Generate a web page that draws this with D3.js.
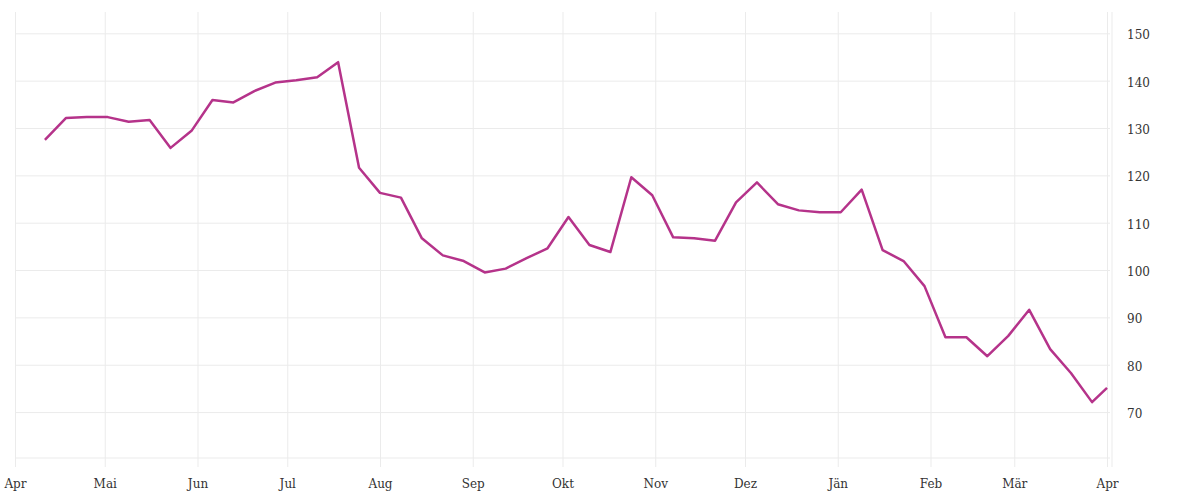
<!DOCTYPE html>
<html>
<head>
<meta charset="utf-8">
<script src="https://cdn.jsdelivr.net/npm/d3@7"></script>
<style>
    body { margin: 0; background: #fff; }
    .tick text { font-family: "DejaVu Serif", serif; font-size: 12px; fill: #333; }
</style>
</head>
<body>
<div id="chart"></div>
<script>
// Weekly dates (Mondays) and the last value at the start of April
const dates = [
    "2022-04-11", "2022-04-18", "2022-04-25", "2022-05-02", "2022-05-09", "2022-05-16", "2022-05-23", "2022-05-30",
    "2022-06-06", "2022-06-13", "2022-06-20", "2022-06-27", "2022-07-04", "2022-07-11", "2022-07-18", "2022-07-25",
    "2022-08-01", "2022-08-08", "2022-08-15", "2022-08-22", "2022-08-29", "2022-09-05", "2022-09-12", "2022-09-19",
    "2022-09-26", "2022-10-03", "2022-10-10", "2022-10-17", "2022-10-24", "2022-10-31", "2022-11-07", "2022-11-14",
    "2022-11-21", "2022-11-28", "2022-12-05", "2022-12-12", "2022-12-19", "2022-12-26", "2023-01-02", "2023-01-09",
    "2023-01-16", "2023-01-23", "2023-01-30", "2023-02-06", "2023-02-13", "2023-02-20", "2023-02-27", "2023-03-06",
    "2023-03-13", "2023-03-20", "2023-03-27", "2023-04-01"
];

// Values
const values = [
    127.5, 132.1, 132.3, 132.3, 131.3, 131.7, 125.8, 129.4,
    135.9, 135.4, 137.8, 139.6, 140.1, 140.7, 143.9, 121.6,
    116.3, 115.3, 106.7, 103.1, 101.9, 99.5, 100.3, 102.5,
    104.6, 111.2, 105.3, 103.8, 119.6, 115.8, 106.9, 106.7,
    106.2, 114.3, 118.5, 113.9, 112.6, 112.2, 112.2, 117.0,
    104.2, 101.9, 96.6, 85.8, 85.8, 81.8, 86.1, 91.6,
    83.3, 78.2, 72.1, 75.1
];

// Month tick labels (Austrian German)
const monthLabels = ["Apr", "Mai", "Jun", "Jul", "Aug", "Sep", "Okt", "Nov", "Dez", "Jän", "Feb", "Mär", "Apr"];
const yTicks = [70, 80, 90, 100, 110, 120, 130, 140, 150];

const width = 1200, height = 500;
const plotLeft = 15, plotRight = 1110, plotTop = 12, plotBottom = 458;

const parse = d3.utcParse("%Y-%m-%d");
const data = dates.map((d, i) => ({ date: parse(d), value: values[i] }));

const x = d3.scaleUtc()
    .domain([parse("2022-04-01"), parse("2023-04-02")])
    .range([plotLeft, plotRight]);

const y = d3.scaleLinear()
    .domain([60.3, 154.5])
    .range([plotBottom, plotTop]);

const svg = d3.select("#chart")
    .append("svg")
    .attr("width", width)
    .attr("height", height);

// Month ticks, gridlines run from the top down past the plot bottom
const monthTicks = d3.utcMonths(parse("2022-04-01"), parse("2023-04-02"));
const xAxis = svg.append("g")
    .attr("transform", `translate(0, ${plotBottom + 9})`)
    .call(d3.axisBottom(x)
        .tickValues(monthTicks)
        .tickFormat((d, i) => monthLabels[i])
        .tickSizeInner(-(plotBottom + 9 - plotTop))
        .tickSizeOuter(0)
        .tickPadding(12));
xAxis.select(".domain").remove();
xAxis.selectAll(".tick line").attr("stroke", "#ebebeb");

// Value axis on the right with horizontal gridlines
const yAxis = svg.append("g")
    .attr("transform", `translate(${plotRight}, 0)`)
    .call(d3.axisRight(y)
        .tickValues(yTicks)
        .tickSizeInner(-(plotRight - plotLeft))
        .tickSizeOuter(0)
        .tickPadding(17));
yAxis.select(".domain").remove();
yAxis.selectAll(".tick line").attr("stroke", "#ebebeb");
yAxis.selectAll(".tick text")
    .attr("text-anchor", "start")
    .attr("dy", "0.45em");

// Plot bottom and right border
svg.append("line")
    .attr("x1", plotLeft).attr("x2", plotRight)
    .attr("y1", plotBottom).attr("y2", plotBottom)
    .attr("stroke", "#ebebeb");
svg.append("line")
    .attr("x1", plotRight + 2).attr("x2", plotRight + 2)
    .attr("y1", plotTop).attr("y2", plotBottom + 9)
    .attr("stroke", "#ebebeb");

// The line
const line = d3.line()
    .x(d => x(d.date))
    .y(d => y(d.value));

svg.append("path")
    .datum(data)
    .attr("d", line)
    .attr("fill", "none")
    .attr("stroke", "#b5338a")
    .attr("stroke-width", 2.5)
    .attr("stroke-linejoin", "round");
</script>
</body>
</html>
